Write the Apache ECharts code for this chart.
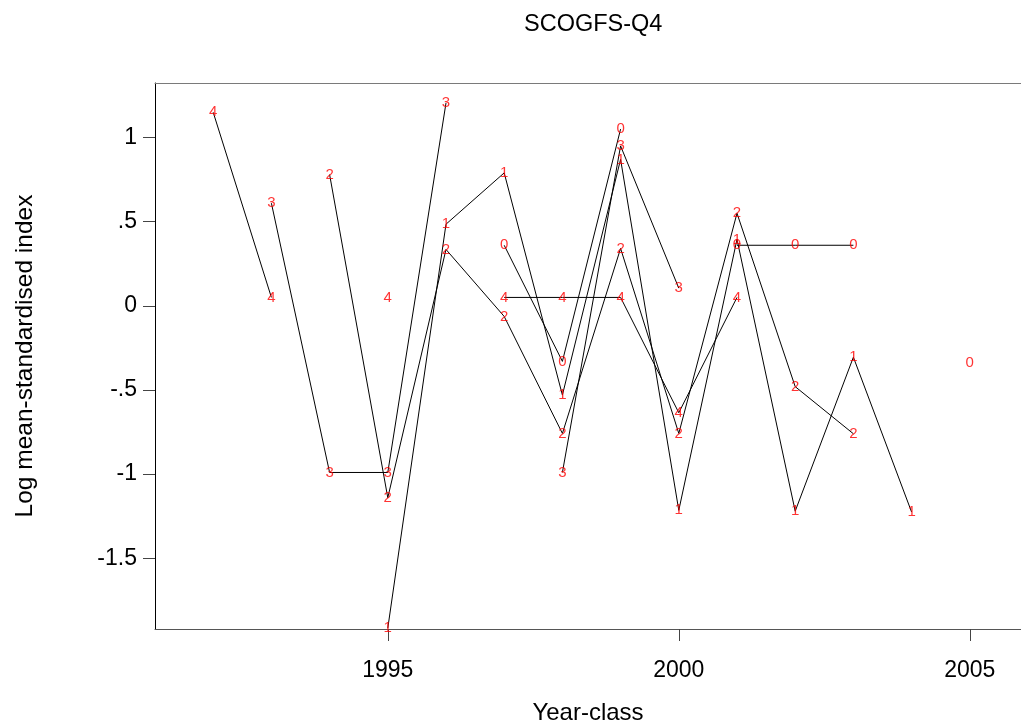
<!DOCTYPE html>
<html>
<head>
<meta charset="utf-8">
<script src="https://cdn.jsdelivr.net/npm/echarts@6/dist/echarts.min.js"></script>
<style>
html,body{margin:0;padding:0;background:#fff;}
#chart{width:1021px;height:725px;}
</style>
</head>
<body>
<div id="chart"></div>
<script>
// Year-classes (x)
var yearClasses = [1992,1993,1994,1995,1996,1997,1998,1999,2000,2001,2002,2003,2004,2005];
// Log mean-standardised index by age (null = missing)
var age0 = [null, null, null, null, null, 0.36, -0.33, 1.05, null, 0.36, 0.36, 0.36, null, -0.34];
var age1 = [null, null, null, -1.915, 0.485, 0.79, -0.53, 0.87, -1.215, 0.395, -1.22, -0.305, -1.225, null];
var age2 = [null, null, 0.78, -1.14, 0.335, -0.063, -0.758, 0.341, -0.758, 0.55, -0.48, -0.76, null, null];
var age3 = [null, 0.61, -0.99, -0.99, 1.205, null, -0.99, 0.95, 0.105, null, null, null, null, null];
var age4 = [1.15, 0.05, null, 0.05, null, 0.05, 0.05, 0.05, -0.635, 0.05, null, null, null, null];
var ages = ['0','1','2','3','4'];
var ageSeries = [age0, age1, age2, age3, age4];
// Tick labels
var xTicks = [1995, 2000, 2005];
var yTicks = [-1.5, -1, -0.5, 0, 0.5, 1];
var yTickLabels = ['-1.5', '-1', '-.5', '0', '.5', '1'];

var FONT = 'Liberation Sans';
var series = [];
ageSeries.forEach(function (vals, i) {
  var pts = yearClasses.map(function (yc, j) { return [yc, vals[j]]; });
  series.push({
    type: 'line',
    data: pts,
    symbol: 'none',
    connectNulls: false,
    silent: true,
    lineStyle: { color: '#000', width: 1 },
    z: 2
  });
  series.push({
    type: 'scatter',
    data: pts.filter(function (p) { return p[1] !== null; }),
    symbol: 'circle',
    symbolSize: 1,
    silent: true,
    clip: false,
    itemStyle: { color: 'rgba(0,0,0,0)' },
    label: {
      show: true,
      position: 'inside',
      formatter: ages[i],
      color: '#ff0000',
      fontFamily: FONT,
      fontSize: 15
    },
    z: 3
  });
});

var chart = echarts.init(document.getElementById('chart'), null, { renderer: 'canvas' });
chart.setOption({
  animation: false,
  backgroundColor: '#fff',
  title: {
    text: 'SCOGFS-Q4',
    left: 519,
    top: 8,
    textStyle: { fontFamily: FONT, fontSize: 23.5, fontWeight: 'normal', color: '#000' }
  },
  grid: {
    left: 155, top: 83, width: 866, height: 546,
    outerBoundsMode: 'none',
    containLabel: false,
    show: false
  },
  xAxis: [{
    type: 'value',
    min: 1991, max: 2005.88,
    name: 'Year-class',
    nameLocation: 'middle',
    nameGap: 72,
    nameTextStyle: { fontFamily: FONT, fontSize: 24, color: '#000' },
    axisLine: { show: true, onZero: false, lineStyle: { color: '#555', width: 1 } },
    axisTick: { show: true, length: 12, customValues: xTicks, lineStyle: { color: '#444' } },
    axisLabel: {
      customValues: xTicks,
      margin: 30,
      fontFamily: FONT, fontSize: 23, color: '#000',
      formatter: function (v) { return String(v); }
    },
    splitLine: { show: false }
  }, {
    type: 'value',
    position: 'top',
    min: 1991, max: 2005.88,
    axisLine: { show: true, onZero: false, lineStyle: { color: '#7a7a7a', width: 1 } },
    axisTick: { show: false },
    axisLabel: { show: false },
    splitLine: { show: false }
  }],
  yAxis: {
    type: 'value',
    min: -1.92, max: 1.324,
    name: 'Log mean-standardised index',
    nameLocation: 'middle',
    nameRotate: 90,
    nameGap: 117,
    nameTextStyle: { fontFamily: FONT, fontSize: 24.5, color: '#000' },
    axisLine: { show: true, onZero: false, lineStyle: { color: '#000', width: 1 } },
    axisTick: { show: true, length: 12, customValues: yTicks, lineStyle: { color: '#444' } },
    axisLabel: {
      customValues: yTicks,
      margin: 18,
      fontFamily: FONT, fontSize: 23, color: '#000',
      formatter: function (v) {
        var idx = yTicks.indexOf(Math.round(v * 10) / 10);
        return idx >= 0 ? yTickLabels[idx] : '';
      }
    },
    splitLine: { show: false }
  },
  series: series
});
</script>
</body>
</html>
